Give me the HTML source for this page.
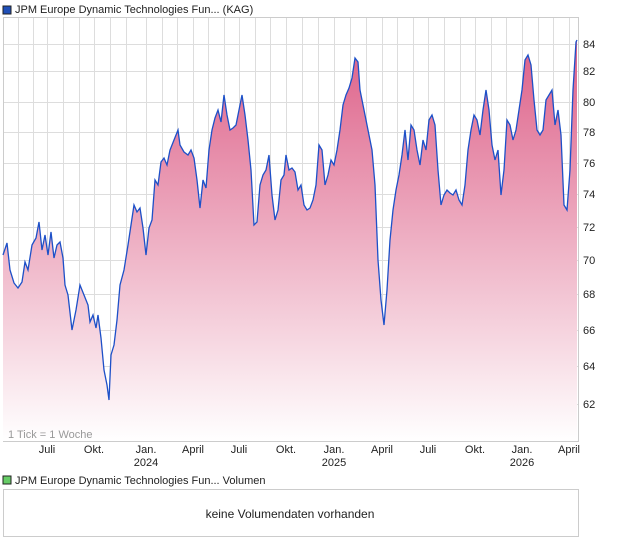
<!DOCTYPE html><html><head><style>body{margin:0;background:#fff;font-family:"Liberation Sans",sans-serif;}</style></head><body>
<svg width="620" height="546" xmlns="http://www.w3.org/2000/svg" font-family="Liberation Sans, sans-serif">
<defs><linearGradient id="g" x1="0" y1="0" x2="0" y2="1"><stop offset="0" stop-color="#dd6088"/><stop offset="1" stop-color="#fff" /></linearGradient></defs>
<rect x="3" y="6" width="8" height="8" fill="#1f4fb8" stroke="#222" stroke-width="1"/>
<text x="15" y="13" font-size="11" fill="#222">JPM Europe Dynamic Technologies Fun... (KAG)</text>
<g stroke="#dddddd" stroke-width="1">
<path d="M3.5 17V441M18.5 17V441M33.5 17V441M47.5 17V441M63.5 17V441M79.5 17V441M94.5 17V441M110.5 17V441M126.5 17V441M146.5 17V441M162.5 17V441M177.5 17V441M193.5 17V441M208.5 17V441M224.5 17V441M239.5 17V441M255.5 17V441M270.5 17V441M286.5 17V441M302.5 17V441M318.5 17V441M334.5 17V441M350.5 17V441M366.5 17V441M382.5 17V441M397.5 17V441M413.5 17V441M428.5 17V441M444.5 17V441M460.5 17V441M475.5 17V441M491.5 17V441M506.5 17V441M522.5 17V441M538.5 17V441M553.5 17V441M569.5 17V441"/>
<path d="M3 17.5H578M3 44.5H578M3 71.5H578M3 102.5H578M3 132.5H578M3 163.5H578M3 194.5H578M3 227.5H578M3 260.5H578M3 294.5H578M3 330.5H578M3 366.5H578M3 404.5H578"/>
</g>
<rect x="3.5" y="17.5" width="575" height="424" fill="none" stroke="#ccc"/>
<polygon fill="url(#g)" points="3,441 3,255 7,243 10,270 14,283 18,288 22,282 25,262 28,270 32,245 36,238 39,222 42,250 45,235 48,255 51,232 54,258 57,245 60,242 63,258 65,285 68,295 72,330 76,310 80,285 84,295 88,305 90,322 93,315 96,328 98,315 101,338 104,370 107,385 109,400 111,355 114,345 117,320 120,285 124,270 128,245 131,225 134,205 137,212 140,208 143,228 146,255 149,228 152,220 155,180 158,185 161,162 164,158 167,165 170,150 174,140 178,130 180,145 184,152 188,155 191,150 194,158 197,180 200,208 203,180 206,188 209,150 212,130 215,118 218,110 221,122 224,95 227,115 230,130 233,128 236,125 239,110 242,95 245,115 248,140 251,170 254,225 257,222 260,185 263,175 266,170 269,155 272,195 275,220 278,210 281,180 284,175 286,155 289,170 292,168 295,172 298,190 301,185 304,205 307,210 310,208 313,200 316,185 319,145 322,150 325,185 328,175 331,160 334,165 337,150 340,130 343,105 346,95 349,88 352,78 355,58 358,62 360,90 363,105 366,120 369,135 372,150 375,185 378,260 381,300 384,325 387,290 390,240 393,210 396,190 399,175 402,155 405,130 408,160 411,125 414,130 417,150 420,165 423,140 426,150 429,120 432,115 435,125 438,170 441,205 444,195 447,190 450,193 453,195 456,190 459,200 462,205 465,185 468,150 471,130 474,115 477,120 480,135 483,110 486,90 489,110 492,145 495,160 498,150 501,195 504,170 507,120 510,125 513,140 516,130 519,110 522,90 525,60 528,55 531,65 534,100 537,130 540,135 543,130 546,100 549,95 552,90 555,125 558,110 561,135 564,205 567,210 570,170 573,90 576,42 577,40 577,441"/>
<polyline fill="none" stroke="#1d50c8" stroke-width="1.3" points="3,255 7,243 10,270 14,283 18,288 22,282 25,262 28,270 32,245 36,238 39,222 42,250 45,235 48,255 51,232 54,258 57,245 60,242 63,258 65,285 68,295 72,330 76,310 80,285 84,295 88,305 90,322 93,315 96,328 98,315 101,338 104,370 107,385 109,400 111,355 114,345 117,320 120,285 124,270 128,245 131,225 134,205 137,212 140,208 143,228 146,255 149,228 152,220 155,180 158,185 161,162 164,158 167,165 170,150 174,140 178,130 180,145 184,152 188,155 191,150 194,158 197,180 200,208 203,180 206,188 209,150 212,130 215,118 218,110 221,122 224,95 227,115 230,130 233,128 236,125 239,110 242,95 245,115 248,140 251,170 254,225 257,222 260,185 263,175 266,170 269,155 272,195 275,220 278,210 281,180 284,175 286,155 289,170 292,168 295,172 298,190 301,185 304,205 307,210 310,208 313,200 316,185 319,145 322,150 325,185 328,175 331,160 334,165 337,150 340,130 343,105 346,95 349,88 352,78 355,58 358,62 360,90 363,105 366,120 369,135 372,150 375,185 378,260 381,300 384,325 387,290 390,240 393,210 396,190 399,175 402,155 405,130 408,160 411,125 414,130 417,150 420,165 423,140 426,150 429,120 432,115 435,125 438,170 441,205 444,195 447,190 450,193 453,195 456,190 459,200 462,205 465,185 468,150 471,130 474,115 477,120 480,135 483,110 486,90 489,110 492,145 495,160 498,150 501,195 504,170 507,120 510,125 513,140 516,130 519,110 522,90 525,60 528,55 531,65 534,100 537,130 540,135 543,130 546,100 549,95 552,90 555,125 558,110 561,135 564,205 567,210 570,170 573,90 576,42 577,40"/>
<g font-size="11" fill="#222">
<text x="583" y="48">84</text><text x="583" y="75">82</text><text x="583" y="106">80</text><text x="583" y="136">78</text><text x="583" y="167">76</text><text x="583" y="198">74</text><text x="583" y="231">72</text><text x="583" y="264">70</text><text x="583" y="298">68</text><text x="583" y="334">66</text><text x="583" y="370">64</text><text x="583" y="408">62</text>
</g>
<text x="8" y="438" font-size="11" fill="#999">1 Tick = 1 Woche</text>
<g font-size="11" fill="#222" text-anchor="middle">
<text x="47" y="453">Juli</text><text x="94" y="453">Okt.</text><text x="146" y="453">Jan.</text><text x="146" y="466">2024</text><text x="193" y="453">April</text><text x="239" y="453">Juli</text><text x="286" y="453">Okt.</text><text x="334" y="453">Jan.</text><text x="334" y="466">2025</text><text x="382" y="453">April</text><text x="428" y="453">Juli</text><text x="475" y="453">Okt.</text><text x="522" y="453">Jan.</text><text x="522" y="466">2026</text><text x="569" y="453">April</text>
</g>
<rect x="3" y="476" width="8" height="8" fill="#6c6" stroke="#222" stroke-width="1"/>
<text x="15" y="484" font-size="11" fill="#222">JPM Europe Dynamic Technologies Fun... Volumen</text>
<rect x="3.5" y="489.5" width="575" height="47" fill="none" stroke="#ccc"/>
<text x="290" y="518" font-size="12" fill="#222" text-anchor="middle">keine Volumendaten vorhanden</text>
</svg>
</body></html>
